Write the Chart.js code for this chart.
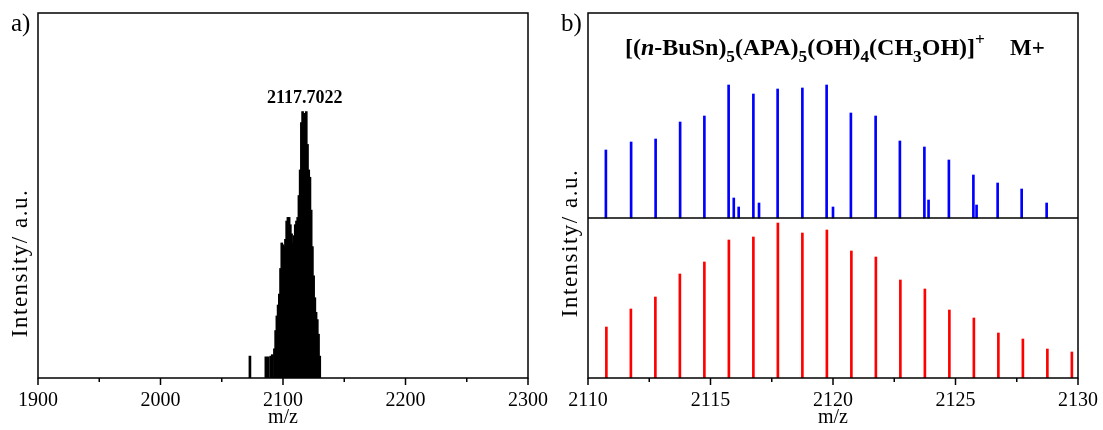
<!DOCTYPE html>
<html>
<head>
<meta charset="utf-8">
<script src="https://cdn.jsdelivr.net/npm/chart.js@4.4.0/dist/chart.umd.min.js"></script>
<style>
  html, body { margin: 0; padding: 0; background: #fff; }
  #wrap { position: relative; width: 1103px; height: 430px; }
  canvas { position: absolute; top: 0; }
  #specA { left: 0; }
  #specB { left: 550px; }
</style>
</head>
<body>
<div id="wrap">
  <canvas id="specA" width="550" height="430"></canvas>
  <canvas id="specB" width="553" height="430"></canvas>
</div>
<script>
// a) full scan: m/z and relative intensity (% of axis)
const scanMz = [2073, 2086, 2088, 2090, 2091.3,
  2093, 2094, 2095, 2096, 2097, 2098, 2099, 2100, 2101, 2102,
  2103, 2104, 2105, 2106, 2107, 2108, 2109, 2110, 2111, 2112,
  2113, 2114, 2115, 2116, 2117, 2117.7022, 2119, 2120, 2121, 2122,
  2123, 2124, 2125, 2126, 2127, 2128, 2129, 2130];
const scanInt = [6, 5.8, 5.8, 6, 6.4,
  8, 13, 17, 20, 23, 30, 37, 36.5, 36, 38,
  43, 44, 44, 42, 39.5, 37, 39, 42, 43, 44,
  50, 57, 70, 73, 71, 72.5, 73, 64, 57, 55,
  46, 36, 28, 22, 18, 16, 12, 6];
const peakMz = 2117.7022;
const xTicksA = [1900, 2000, 2100, 2200, 2300];

// b) isotope pattern: observed (blue, upper) and simulated (red, lower)
const obsMz = [2110.73, 2111.76, 2112.76, 2113.76, 2114.75, 2115.74, 2115.95, 2116.15,
  2116.75, 2116.98, 2117.74, 2118.75, 2119.74, 2120.0, 2120.73, 2121.74,
  2122.73, 2123.73, 2123.9, 2124.73, 2125.73, 2125.86, 2126.72, 2127.7, 2128.72];
const obsInt = [68, 76, 79, 96, 102, 133, 20, 11,
  124, 15, 129, 130, 133, 11, 105, 102,
  77, 71, 18, 58, 43, 13, 35, 29, 15];
const simMz = [2110.75, 2111.75, 2112.75, 2113.75, 2114.75, 2115.75, 2116.75, 2117.75,
  2118.75, 2119.75, 2120.75, 2121.75, 2122.75, 2123.75, 2124.75, 2125.75,
  2126.75, 2127.75, 2128.75, 2129.75];
const simInt = [51, 69, 81, 104, 116, 138, 141, 155,
  145, 148, 127, 121, 98, 89, 68, 60,
  45, 39, 29, 26];
const xTicksB = [2110, 2115, 2120, 2125, 2130];

const serif = '"Liberation Serif", "Times New Roman", serif';
const splitB = 160;   // baseline of the upper trace
const topB = 365;

// box frame, outward ticks, panel letter and rotated y title
const framePlugin = {
  id: 'frame',
  afterDraw(chart, args, o) {
    const { ctx, chartArea: a, scales: { x, y } } = chart;
    ctx.save();
    ctx.strokeStyle = '#000';
    ctx.lineWidth = 1.5;
    ctx.strokeRect(a.left, a.top, a.right - a.left, a.bottom - a.top);
    if (o.split != null) {
      const py = y.getPixelForValue(o.split);
      ctx.beginPath(); ctx.moveTo(a.left, py); ctx.lineTo(a.right, py); ctx.stroke();
    }
    const n = Math.round((x.max - x.min) / o.minor);
    for (let i = 0; i <= n; i++) {
      const px = x.getPixelForValue(x.min + i * o.minor);
      const len = i % o.per === 0 ? 7 : 4;
      ctx.beginPath(); ctx.moveTo(px, a.bottom); ctx.lineTo(px, a.bottom + len); ctx.stroke();
    }
    ctx.fillStyle = '#000';
    ctx.font = '25px ' + serif;
    ctx.textAlign = 'left';
    ctx.textBaseline = 'alphabetic';
    ctx.fillText(o.letter, 11, 31);
    ctx.save();
    ctx.translate(27, o.titleY);
    ctx.rotate(-Math.PI / 2);
    ctx.font = '23px ' + serif;
    ctx.letterSpacing = '1.5px';
    ctx.textAlign = 'center';
    ctx.fillText('Intensity/ a.u.', 0, 0);
    ctx.restore();
    ctx.restore();
  }
};

// m/z label above the main peak
const peakLabel = {
  id: 'peakLabel',
  afterDatasetsDraw(chart) {
    const { ctx, scales: { x, y } } = chart;
    const i = scanMz.indexOf(peakMz);
    ctx.save();
    ctx.fillStyle = '#000';
    ctx.font = 'bold 18px ' + serif;
    ctx.textAlign = 'center';
    ctx.fillText(peakMz.toFixed(4), x.getPixelForValue(peakMz), y.getPixelForValue(scanInt[i]) - 10);
    ctx.restore();
  }
};

// ion formula with sub/superscripts
const formulaParts = [
  { t: '[(' }, { t: 'n', it: true }, { t: '-BuSn)' }, { t: '5', sub: true },
  { t: '(APA)' }, { t: '5', sub: true }, { t: '(OH)' }, { t: '4', sub: true },
  { t: '(CH' }, { t: '3', sub: true }, { t: 'OH)]' }, { t: '+', sup: true }
];
const formulaPlugin = {
  id: 'formula',
  afterDraw(chart) {
    const ctx = chart.ctx;
    const size = 24;
    let x = 75;
    const y = 55;
    ctx.save();
    ctx.fillStyle = '#000';
    ctx.textAlign = 'left';
    for (const p of formulaParts) {
      const s = (p.sub || p.sup) ? size * 0.72 : size;
      ctx.font = (p.it ? 'italic ' : '') + 'bold ' + s + 'px ' + serif;
      const dy = p.sub ? size * 0.3 : p.sup ? -size * 0.42 : 0;
      ctx.fillText(p.t, x, y + dy);
      x += ctx.measureText(p.t).width;
    }
    ctx.font = 'bold 23px ' + serif;
    ctx.fillText('M+', 460, y);
    ctx.restore();
  }
};

const xAxis = (min, max, ticks) => ({
  type: 'linear', min, max, offset: false,
  grid: { display: false, drawTicks: false },
  border: { display: false },
  afterBuildTicks: s => { s.ticks = ticks.map(v => ({ value: v })); },
  ticks: { color: '#000', padding: 11, font: { family: serif, size: 20 }, maxRotation: 0, callback: v => String(v) },
  title: { display: true, text: 'm/z', color: '#000', font: { family: serif, size: 20 }, padding: { top: 0, bottom: 0 } },
  afterFit: s => { s.height = 52; s.paddingLeft = 0; s.paddingRight = 0; }
});

const common = {
  responsive: false,
  animation: false,
  events: [],
  plugins: { legend: { display: false }, tooltip: { enabled: false } }
};

new Chart(document.getElementById('specA'), {
  type: 'bar',
  data: {
    datasets: [{
      data: scanMz.map((m, i) => ({ x: m, y: scanInt[i] })),
      backgroundColor: '#000',
      barThickness: 2,
      borderWidth: 0
    }]
  },
  options: {
    ...common,
    layout: { padding: { left: 38, right: 22, top: 13, bottom: 0 } },
    scales: {
      x: xAxis(1900, 2300, xTicksA),
      y: { display: false, min: 0, max: 100 }
    },
    plugins: { ...common.plugins, frame: { letter: 'a)', minor: 50, per: 2, titleY: 263 } }
  },
  plugins: [framePlugin, peakLabel]
});

new Chart(document.getElementById('specB'), {
  type: 'bar',
  data: {
    datasets: [{
      data: obsMz.map((m, i) => ({ x: m, y: [splitB, splitB + obsInt[i]] })),
      backgroundColor: '#0000ff',
      barThickness: 2,
      borderWidth: 0,
      grouped: false
    }, {
      data: simMz.map((m, i) => ({ x: m, y: simInt[i] })),
      backgroundColor: '#ff0000',
      barThickness: 2,
      borderWidth: 0,
      grouped: false
    }]
  },
  options: {
    ...common,
    layout: { padding: { left: 38, right: 25, top: 13, bottom: 0 } },
    scales: {
      x: xAxis(2110, 2130, xTicksB),
      y: { display: false, min: 0, max: topB }
    },
    plugins: { ...common.plugins, frame: { letter: 'b)', minor: 2.5, per: 2, split: splitB, titleY: 243 } }
  },
  plugins: [framePlugin, formulaPlugin]
});
</script>
</body>
</html>
